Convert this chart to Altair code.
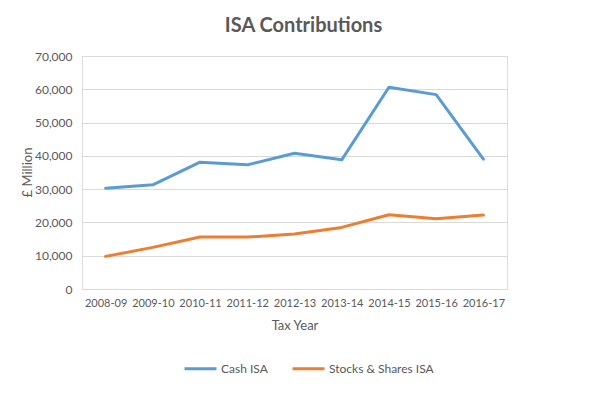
import altair as alt
import pandas as pd

years = ["2008-09", "2009-10", "2010-11", "2011-12", "2012-13",
         "2013-14", "2014-15", "2015-16", "2016-17"]
cash_isa = [30300, 31300, 38100, 37300, 40800, 38800, 60600, 58400, 39000]
stocks_isa = [9800, 12500, 15600, 15600, 16500, 18500, 22300, 21100, 22200]
series = ["Cash ISA", "Stocks & Shares ISA"]
colors = ["#5B9BD5", "#ED7D31"]
y_ticks = [0, 10000, 20000, 30000, 40000, 50000, 60000, 70000]

df = pd.DataFrame({
    "year": years + years,
    "value": cash_isa + stocks_isa,
    "series": [series[0]] * len(years) + [series[1]] * len(years),
})

FONT = "Lato"
TXT = "#595959"

chart = alt.Chart(df).mark_line(
    strokeWidth=3, strokeCap="round", strokeJoin="round"
).encode(
    x=alt.X("year:O", sort=years, title="Tax Year",
            scale=alt.Scale(padding=0.5),
            axis=alt.Axis(labelAngle=0, ticks=False, domain=False, grid=False,
                          labelPadding=8, labelFontSize=11, labelColor=TXT,
                          labelFont=FONT, titleFont=FONT, titleFontSize=13,
                          titleFontWeight="normal", titleColor=TXT,
                          titleY=36, titleBaseline="middle")),
    y=alt.Y("value:Q", title="£ Million",
            scale=alt.Scale(domain=[0, 70000], nice=False),
            axis=alt.Axis(values=y_ticks, format=",.0f", ticks=False, domain=False,
                          gridColor="#D9D9D9", gridWidth=1,
                          labelPadding=10, labelFontSize=12, labelColor=TXT,
                          labelFont=FONT, titleFont=FONT, titleFontSize=13,
                          titleFontWeight="normal", titleColor=TXT,
                          titleX=-55, titleY=116, titleBaseline="middle")),
    color=alt.Color("series:N", sort=series,
                    scale=alt.Scale(domain=series, range=colors),
                    legend=alt.Legend(title=None, orient="none", direction="horizontal",
                                      legendX=101, legendY=295,
                                      symbolType="stroke", symbolSize=1024,
                                      symbolStrokeWidth=3, labelFontSize=12,
                                      labelColor=TXT, labelFont=FONT,
                                      labelOffset=3, columnPadding=18)),
).properties(
    width=425,
    height=233,
    title=alt.TitleParams("ISA Contributions", fontSize=20, fontWeight="bold",
                          color=TXT, font=FONT, anchor="middle", dx=9, offset=14),
    autosize=alt.AutoSizeParams(type="none"),
    padding={"left": 74, "top": 48, "right": 88, "bottom": 93},
).configure_view(stroke=None).configure(background="white")

chart.save("out.html", embed_options={"renderer": "svg", "actions": False})
